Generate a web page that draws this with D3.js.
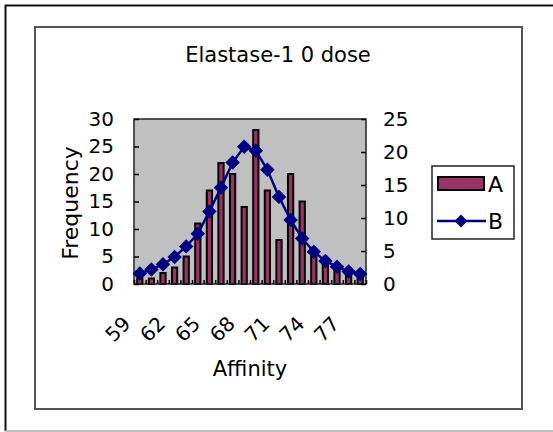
<!DOCTYPE html>
<html>
<head>
<meta charset="utf-8">
<script src="https://cdn.jsdelivr.net/npm/d3@7"></script>
<style>
  html, body { margin: 0; padding: 0; background: #fff; }
  svg { display: block; }
  text { font-family: "DejaVu Sans", sans-serif; fill: #000; }
</style>
</head>
<body>
<svg id="chart" width="553" height="432"></svg>
<script>
// Affinity bins and the two series plotted over them
const categories = [59, 60, 61, 62, 63, 64, 65, 66, 67, 68, 69, 70, 71, 72, 73, 74, 75, 76, 77, 78];
const seriesA = [1, 1, 2, 3, 5, 11, 17, 22, 20, 14, 28, 17, 8, 20, 15, 5, 4, 3, 2, 1];
const seriesB = [1.6, 2.2, 3.0, 4.1, 5.7, 7.6, 11.0, 14.6, 18.4, 20.8, 20.2, 17.3, 13.2, 9.7, 6.9, 4.9, 3.5, 2.6, 1.9, 1.5];
const xTickLabels = ["59", "62", "65", "68", "71", "74", "77"];
const leftTicks = [0, 5, 10, 15, 20, 25, 30];
const rightTicks = [0, 5, 10, 15, 20, 25];
const seriesNames = ["A", "B"];

const barFill = "#993366";
const lineColor = "#000080";
const tickFont = 20;

const svg = d3.select("#chart");

// Outer window frame and chart area frame
svg.append("line").attr("x1", 5.5).attr("y1", 5).attr("x2", 5.5).attr("y2", 431)
  .attr("stroke", "#111").attr("stroke-width", 2);
svg.append("line").attr("x1", 5).attr("y1", 5.5).attr("x2", 553).attr("y2", 5.5)
  .attr("stroke", "#111").attr("stroke-width", 2);
svg.append("line").attr("x1", 5).attr("y1", 431).attr("x2", 553).attr("y2", 431)
  .attr("stroke", "#aaa").attr("stroke-width", 1.5);
svg.append("rect").attr("x", 35).attr("y", 27).attr("width", 487).attr("height", 382)
  .attr("fill", "none").attr("stroke", "#555").attr("stroke-width", 2);

// Plot area
const plot = { left: 134, right: 366, top: 119, bottom: 284 };

const x = d3.scaleBand().domain(categories).range([plot.left, plot.right]).paddingInner(0).paddingOuter(0);
const xEdge = d3.scaleLinear().domain([0, categories.length]).range([plot.left, plot.right]);
const yL = d3.scaleLinear().domain([0, 30]).range([plot.bottom, plot.top]);
const yR = d3.scaleLinear().domain([0, 25]).range([plot.bottom, plot.top]);
const cx = (i) => x(categories[i]) + x.bandwidth() / 2;

svg.append("rect")
  .attr("x", plot.left).attr("y", plot.top)
  .attr("width", plot.right - plot.left).attr("height", plot.bottom - plot.top)
  .attr("fill", "#c0c0c0");

// Series A bars
const barW = x.bandwidth() / 2.2;
svg.append("g").selectAll("rect")
  .data(seriesA)
  .join("rect")
  .attr("x", (d, i) => cx(i) - barW / 2)
  .attr("y", (d) => yL(d))
  .attr("width", barW)
  .attr("height", (d) => yL(0) - yL(d))
  .attr("fill", barFill)
  .attr("stroke", "#000")
  .attr("stroke-width", 2);

// Plot border
svg.append("rect")
  .attr("x", plot.left).attr("y", plot.top)
  .attr("width", plot.right - plot.left).attr("height", plot.bottom - plot.top)
  .attr("fill", "none").attr("stroke", "#222").attr("stroke-width", 1.5);

// Left axis (Frequency)
const gL = svg.append("g").attr("transform", `translate(${plot.left},0)`)
  .call(d3.axisLeft(yL).tickValues(leftTicks).tickSize(-5).tickPadding(20));
// Right axis
const gR = svg.append("g").attr("transform", `translate(${plot.right},0)`)
  .call(d3.axisRight(yR).tickValues(rightTicks).tickSize(-5).tickPadding(17));
// Bottom category ticks
const gB = svg.append("g").attr("transform", `translate(0,${plot.bottom})`)
  .call(d3.axisBottom(xEdge).tickValues(d3.range(categories.length + 1)).tickSize(-4).tickFormat(""));

[gL, gR, gB].forEach((g) => {
  g.select(".domain").remove();
  g.selectAll(".tick line").attr("stroke", "#000").attr("stroke-width", 1.5);
  g.selectAll(".tick text").attr("font-size", tickFont).attr("font-family", "DejaVu Sans").attr("fill", "#000");
});

// Series B line with diamond markers
const line = d3.line()
  .x((d, i) => cx(i))
  .y((d) => yR(d));
svg.append("path").datum(seriesB)
  .attr("d", line)
  .attr("fill", "none")
  .attr("stroke", lineColor)
  .attr("stroke-width", 2.5);

const diamond = d3.symbol().type(d3.symbolSquare).size(85);
svg.append("g").selectAll("path")
  .data(seriesB)
  .join("path")
  .attr("d", diamond)
  .attr("transform", (d, i) => `translate(${cx(i)},${yR(d)}) rotate(45)`)
  .attr("fill", lineColor)
  .attr("stroke", lineColor)
  .attr("stroke-width", 1);

// Rotated category labels
svg.append("g").selectAll("text")
  .data(xTickLabels)
  .join("text")
  .attr("transform", (d) => `translate(${x(+d) + x.bandwidth() / 2 - 8},325) rotate(-45)`)
  .attr("text-anchor", "end")
  .attr("font-size", tickFont)
  .text((d) => d);

// Titles
svg.append("text").attr("x", 278).attr("y", 62).attr("text-anchor", "middle")
  .attr("font-size", 21).text("Elastase-1 0 dose");
svg.append("text").attr("x", 250).attr("y", 376).attr("text-anchor", "middle")
  .attr("font-size", 21).text("Affinity");
svg.append("text").attr("transform", "translate(78,203) rotate(-90)").attr("text-anchor", "middle")
  .attr("font-size", 22).text("Frequency");

// Legend
const lg = svg.append("g");
lg.append("rect").attr("x", 432).attr("y", 166).attr("width", 82).attr("height", 73)
  .attr("fill", "#fff").attr("stroke", "#222").attr("stroke-width", 1.5);
lg.append("rect").attr("x", 438).attr("y", 177).attr("width", 46).attr("height", 13)
  .attr("fill", barFill).attr("stroke", "#000").attr("stroke-width", 2);
lg.append("text").attr("x", 488).attr("y", 192).attr("font-size", 22).text(seriesNames[0]);
lg.append("line").attr("x1", 437).attr("x2", 486).attr("y1", 221).attr("y2", 221)
  .attr("stroke", lineColor).attr("stroke-width", 2.5);
lg.append("path").attr("transform", "translate(461,221) rotate(45)")
  .attr("d", diamond).attr("fill", lineColor);
lg.append("text").attr("x", 488).attr("y", 229).attr("font-size", 22).text(seriesNames[1]);
</script>
</body>
</html>
